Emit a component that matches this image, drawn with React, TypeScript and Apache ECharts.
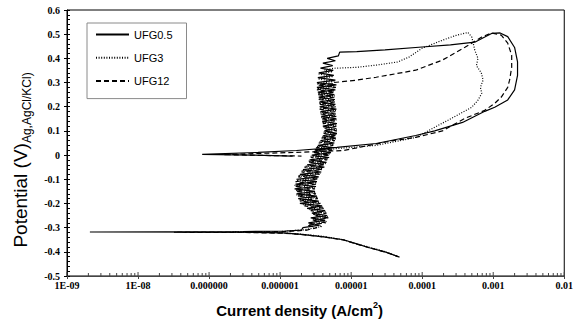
import React, { useEffect, useRef } from "react";
import * as echarts from "echarts";

// ---- axis / tick data ----
const xTickLabels = ["1E-09", "1E-08", "0.000000", "0.000001", "0.00001", "0.0001", "0.001", "0.01"];
const xDecades = [-9, -8, -7, -6, -5, -4, -3, -2];
const minorMultiples = [2, 3, 4, 5, 6, 7, 8, 9];
const yMin = -0.5;
const yMax = 0.6;
const seriesNames = ["UFG0.5", "UFG3", "UFG12"];

// ---- UFG0.5 (solid) : [current density A/cm2, potential V] ----
const ufg05Cathodic = [
  [4.6e-5, -0.42], [3.0e-5, -0.40], [1.8e-5, -0.383], [1.2e-5, -0.367], [7.8e-6, -0.35],
  [4.1e-6, -0.338], [2.0e-6, -0.328], [1.1e-6, -0.322], [3e-7, -0.319], [2.1e-9, -0.318],
  [3e-7, -0.316], [1.2e-6, -0.314], [2.0e-6, -0.31],
];
const ufg05Passive = [
  [2.1e-6, -0.30], [3.6e-6, -0.29], [2.5e-6, -0.28], [4.3e-6, -0.27], [2.7e-6, -0.26],
  [4.6e-6, -0.25], [2.8e-6, -0.24], [4.3e-6, -0.23], [2.4e-6, -0.22], [3.9e-6, -0.21],
  [1.9e-6, -0.20], [3.5e-6, -0.19], [1.8e-6, -0.18], [3.3e-6, -0.17], [1.7e-6, -0.16],
  [3.1e-6, -0.15], [1.6e-6, -0.14], [3.2e-6, -0.13], [1.65e-6, -0.12], [3.3e-6, -0.11],
  [1.7e-6, -0.10], [3.5e-6, -0.09], [1.9e-6, -0.08], [3.8e-6, -0.07], [2.1e-6, -0.06],
  [4.2e-6, -0.05], [2.4e-6, -0.04], [4.5e-6, -0.03], [2.6e-6, -0.02], [4.9e-6, -0.01],
  [2.8e-6, 0.0], [5.2e-6, 0.01], [3.1e-6, 0.02], [5.6e-6, 0.03], [3.4e-6, 0.04],
  [5.8e-6, 0.05], [3.7e-6, 0.06], [6.1e-6, 0.07], [4.0e-6, 0.08], [6.3e-6, 0.09],
  [4.2e-6, 0.10], [6.2e-6, 0.11], [4.0e-6, 0.12], [6.3e-6, 0.13], [3.9e-6, 0.14],
  [6.2e-6, 0.15], [3.8e-6, 0.16], [6.1e-6, 0.17], [3.7e-6, 0.18], [6.2e-6, 0.19],
  [3.6e-6, 0.20], [6.0e-6, 0.21], [3.6e-6, 0.22], [5.9e-6, 0.23], [3.5e-6, 0.24],
  [5.8e-6, 0.25], [3.4e-6, 0.26], [6.0e-6, 0.27], [3.3e-6, 0.28], [6.2e-6, 0.29],
  [3.3e-6, 0.30], [6.0e-6, 0.31], [3.4e-6, 0.32], [5.7e-6, 0.33], [3.5e-6, 0.34],
  [5.6e-6, 0.35], [3.7e-6, 0.36], [5.5e-6, 0.37], [4.0e-6, 0.38], [6.0e-6, 0.39],
  [4.6e-6, 0.40], [6.6e-6, 0.41],
];
const ufg05Anodic = [
  [6.9e-6, 0.426], [1.2e-5, 0.428], [3e-5, 0.435], [1e-4, 0.447], [2.5e-4, 0.456],
  [5.5e-4, 0.467], [7.6e-4, 0.488], [9.5e-4, 0.503], [1.25e-3, 0.505], [1.6e-3, 0.49],
  [2.0e-3, 0.445], [2.2e-3, 0.385], [2.2e-3, 0.33], [2.0e-3, 0.27], [1.6e-3, 0.228],
  [1.05e-3, 0.198], [7.6e-4, 0.181], [3.7e-4, 0.135], [1.5e-4, 0.10], [8.1e-5, 0.081],
  [2.25e-5, 0.048], [6.3e-6, 0.032], [1.7e-6, 0.019], [4.9e-7, 0.011], [8e-8, 0.003],
  [4e-7, 0.0], [1.5e-6, -0.004],
];

// ---- UFG3 (dotted) ----
const ufg3Cathodic = [
  [4.4e-5, -0.418], [2.9e-5, -0.398], [1.8e-5, -0.381], [1.1e-5, -0.364], [7.5e-6, -0.349],
  [4.0e-6, -0.336], [2.0e-6, -0.327], [1.0e-6, -0.321], [2.0e-7, -0.318], [1e-6, -0.316],
  [2.2e-6, -0.309],
];
const ufg3Passive = [
  [3.9e-6, -0.295], [2.6e-6, -0.285], [4.5e-6, -0.275], [2.9e-6, -0.265], [4.7e-6, -0.255],
  [2.9e-6, -0.245], [4.4e-6, -0.235], [2.6e-6, -0.225], [4.0e-6, -0.215], [2.1e-6, -0.205],
  [3.6e-6, -0.195], [1.85e-6, -0.185], [3.4e-6, -0.175], [1.7e-6, -0.165], [3.2e-6, -0.155],
  [1.65e-6, -0.145], [3.1e-6, -0.135], [1.6e-6, -0.125], [3.3e-6, -0.115], [1.7e-6, -0.105],
  [3.4e-6, -0.095], [1.8e-6, -0.085], [3.7e-6, -0.075], [2.0e-6, -0.065], [4.0e-6, -0.055],
  [2.3e-6, -0.045], [4.4e-6, -0.035], [2.5e-6, -0.025], [4.7e-6, -0.015], [2.7e-6, -0.005],
  [5.1e-6, 0.005], [3.0e-6, 0.015], [5.4e-6, 0.025], [3.3e-6, 0.035], [5.7e-6, 0.045],
  [3.6e-6, 0.055], [6.0e-6, 0.065], [3.9e-6, 0.075], [6.2e-6, 0.085], [4.1e-6, 0.095],
  [6.3e-6, 0.105], [4.1e-6, 0.115], [6.1e-6, 0.125], [3.9e-6, 0.135], [6.2e-6, 0.145],
  [3.8e-6, 0.155], [6.0e-6, 0.165], [3.7e-6, 0.175], [6.1e-6, 0.185], [3.6e-6, 0.195],
  [5.9e-6, 0.205], [3.5e-6, 0.215], [5.8e-6, 0.225], [3.5e-6, 0.235], [5.9e-6, 0.245],
  [3.4e-6, 0.255], [5.7e-6, 0.265], [3.3e-6, 0.275], [5.9e-6, 0.285], [3.3e-6, 0.295],
  [5.8e-6, 0.305], [3.4e-6, 0.315], [5.6e-6, 0.325], [3.5e-6, 0.335], [5.5e-6, 0.345],
  [4.2e-6, 0.352],
];
const ufg3Anodic = [
  [5.7e-6, 0.359], [1.2e-5, 0.363], [2.25e-5, 0.372], [4.5e-5, 0.385], [6.5e-5, 0.405],
  [1.0e-4, 0.442], [1.93e-4, 0.475], [3.0e-4, 0.495], [4.4e-4, 0.507], [5.0e-4, 0.488],
  [5.5e-4, 0.434], [6.1e-4, 0.40], [5.8e-4, 0.37], [6.8e-4, 0.34], [7.2e-4, 0.31],
  [6.6e-4, 0.28], [6.9e-4, 0.256], [6.1e-4, 0.227], [5.0e-4, 0.198], [3.7e-4, 0.177],
  [2.3e-4, 0.144], [8.1e-5, 0.073], [2.25e-5, 0.04], [6.3e-6, 0.027], [3.5e-6, 0.018],
];

// ---- UFG12 (dashed) ----
const ufg12Cathodic = [
  [4.8e-5, -0.422], [3.1e-5, -0.402], [1.9e-5, -0.385], [1.2e-5, -0.368], [8.0e-6, -0.352],
  [4.2e-6, -0.339], [2.1e-6, -0.329], [1.1e-6, -0.323], [3e-7, -0.320], [3.2e-8, -0.319],
  [3e-7, -0.318], [1.2e-6, -0.316], [2.3e-6, -0.311],
];
const ufg12Passive = [
  [3.3e-6, -0.30], [2.4e-6, -0.29], [4.4e-6, -0.28], [2.8e-6, -0.27], [4.8e-6, -0.26],
  [3.0e-6, -0.25], [4.5e-6, -0.24], [2.7e-6, -0.23], [4.1e-6, -0.22], [2.2e-6, -0.21],
  [3.7e-6, -0.20], [1.9e-6, -0.19], [3.4e-6, -0.18], [1.75e-6, -0.17], [3.2e-6, -0.16],
  [1.65e-6, -0.15], [3.1e-6, -0.14], [1.6e-6, -0.13], [3.2e-6, -0.12], [1.65e-6, -0.11],
  [3.4e-6, -0.10], [1.8e-6, -0.09], [3.6e-6, -0.08], [2.0e-6, -0.07], [3.9e-6, -0.06],
  [2.2e-6, -0.05], [4.3e-6, -0.04], [2.5e-6, -0.03], [4.6e-6, -0.02], [2.7e-6, -0.01],
  [5.0e-6, 0.0], [2.9e-6, 0.01], [5.3e-6, 0.02], [3.2e-6, 0.03], [5.6e-6, 0.04],
  [3.5e-6, 0.05], [5.9e-6, 0.06], [3.8e-6, 0.07], [6.2e-6, 0.08], [4.1e-6, 0.09],
  [6.3e-6, 0.10], [4.1e-6, 0.11], [6.2e-6, 0.12], [4.0e-6, 0.13], [6.1e-6, 0.14],
  [3.8e-6, 0.15], [6.2e-6, 0.16], [3.7e-6, 0.17], [6.0e-6, 0.18], [3.6e-6, 0.19],
  [6.1e-6, 0.20], [3.6e-6, 0.21], [5.9e-6, 0.22], [3.5e-6, 0.23], [5.8e-6, 0.24],
  [3.4e-6, 0.25], [5.9e-6, 0.26], [3.3e-6, 0.27], [6.1e-6, 0.28], [3.4e-6, 0.29],
  [5.8e-6, 0.295],
];
const ufg12Anodic = [
  [5.7e-6, 0.30], [1.2e-5, 0.31], [2.25e-5, 0.322], [8.1e-5, 0.351], [1.93e-4, 0.393],
  [4.0e-4, 0.446], [6.9e-4, 0.488], [9.5e-4, 0.505], [1.3e-3, 0.496], [1.6e-3, 0.463],
  [1.82e-3, 0.413], [1.82e-3, 0.363], [1.7e-3, 0.31], [1.6e-3, 0.28], [1.3e-3, 0.24],
  [1.05e-3, 0.214], [7.6e-4, 0.185], [4.0e-4, 0.152], [1.93e-4, 0.10], [8.1e-5, 0.073],
  [3.9e-5, 0.06], [7.8e-6, 0.019], [1.7e-6, 0.011], [4.9e-7, 0.007], [1.6e-7, 0.002],
  [5e-7, -0.001], [2e-6, -0.004],
];

const serif = "'Liberation Serif', 'Times New Roman', serif";
const sans = "'Liberation Sans', Arial, sans-serif";

export default function App() {
  const ref = useRef<HTMLDivElement>(null);
  useEffect(() => {
    document.body.style.margin = "0";
    const chart = echarts.init(ref.current as HTMLDivElement, null, { renderer: "svg" });

    const tickData: number[][] = [];
    xDecades.forEach((d, i) => {
      tickData.push([Math.pow(10, d), 1]);
      if (i < xDecades.length - 1) minorMultiples.forEach((m) => tickData.push([m * Math.pow(10, d), 0]));
    });

    const line = (name: string, data: number[][], type: any, width: number) => ({
      name,
      type: "line",
      data,
      symbol: "none",
      showSymbol: false,
      smooth: false,
      lineStyle: { color: "#000", width, type },
      itemStyle: { color: "#000" },
      z: 3,
    });

    const option: any = {
      animation: false,
      backgroundColor: "#fff",
      grid: { left: 67, right: 6, top: 10, bottom: 53, show: true, borderColor: "#000", borderWidth: 1 },
      legend: {
        data: seriesNames,
        orient: "vertical",
        left: 87,
        top: 23,
        padding: [6, 14, 12, 8],
        itemGap: 12,
        itemWidth: 33,
        itemHeight: 14,
        borderColor: "#8a8a8a",
        borderWidth: 1,
        itemStyle: { opacity: 0 },
        textStyle: { fontFamily: sans, fontSize: 11, color: "#000" },
      },
      xAxis: {
        type: "log",
        logBase: 10,
        min: 1e-9,
        max: 1e-2,
        splitNumber: 7,
        name: "{m|Current density (A/cm}{s|2}{m|)}",
        nameLocation: "middle",
        nameGap: 24,
        nameTextStyle: {
          padding: [0, 32, 0, 0],
          rich: {
            m: { fontFamily: sans, fontWeight: "bold", fontSize: 15, color: "#000", lineHeight: 20 },
            s: { fontFamily: sans, fontWeight: "bold", fontSize: 9, color: "#000", lineHeight: 10, verticalAlign: "top" },
          },
        },
        axisLine: { onZero: false, lineStyle: { color: "#444", width: 1 } },
        axisTick: { show: true, inside: false, length: 3, lineStyle: { color: "#444" } },
        minorTick: { show: false },
        splitLine: { show: false },
        axisLabel: {
          margin: 4,
          fontFamily: serif,
          fontWeight: "bold",
          fontSize: 10,
          color: "#000",
          showMinLabel: true,
          showMaxLabel: true,
          formatter: (v: number) => xTickLabels[Math.round(Math.log10(v)) - xDecades[0]] ?? "",
        },
      },
      yAxis: [
        {
          type: "value",
          min: yMin,
          max: yMax,
          interval: 0.1,
          position: "left",
          name: "{a|Potential (V)}{b|Ag,AgCl/KCl)}",
          nameLocation: "middle",
          nameGap: 32,
          nameTextStyle: {
            padding: [0, 34, 0, 0],
            rich: {
              a: { fontFamily: sans, fontSize: 19, color: "#000", lineHeight: 26 },
              b: { fontFamily: sans, fontSize: 12, color: "#000", lineHeight: 13, verticalAlign: "bottom" },
            },
          },
          axisLine: { show: true, onZero: false, lineStyle: { color: "#000", width: 1 } },
          axisTick: { show: true, inside: true, length: 3, lineStyle: { color: "#000" } },
          minorTick: { show: true, splitNumber: 5, length: 3, lineStyle: { color: "#000" } },
          splitLine: { show: false },
          axisLabel: { margin: 7, fontFamily: serif, fontWeight: "bold", fontSize: 10, color: "#000" },
        },
        {
          type: "value",
          min: yMin,
          max: yMax,
          interval: 0.1,
          position: "left",
          offset: 0,
          axisLine: { show: false, onZero: false },
          axisTick: { show: true, inside: false, length: 3, lineStyle: { color: "#000" } },
          axisLabel: { show: false },
          splitLine: { show: false },
        },
      ],
      series: [
        line(seriesNames[0], [...ufg05Cathodic, ...ufg05Passive, ...ufg05Anodic], "solid", 1.2),
        line(seriesNames[1], [...ufg3Cathodic, ...ufg3Passive, ...ufg3Anodic], [1, 1.6], 1.2),
        line(seriesNames[2], [...ufg12Cathodic, ...ufg12Passive, ...ufg12Anodic], [5, 3], 1.2),
        {
          type: "custom",
          silent: true,
          clip: false,
          data: tickData,
          encode: { x: 0 },
          z: 4,
          renderItem: (_p: any, api: any) => {
            const pt = api.coord([api.value(0), yMin]);
            const len = api.value(1) ? 4 : 3;
            return {
              type: "line",
              shape: { x1: pt[0], y1: pt[1], x2: pt[0], y2: pt[1] - len },
              style: { stroke: "#444", lineWidth: 1 },
            };
          },
        },
      ],
    };
    chart.setOption(option);
    return () => chart.dispose();
  }, []);
  return <div ref={ref} style={{ width: 576, height: 329 }} />;
}
